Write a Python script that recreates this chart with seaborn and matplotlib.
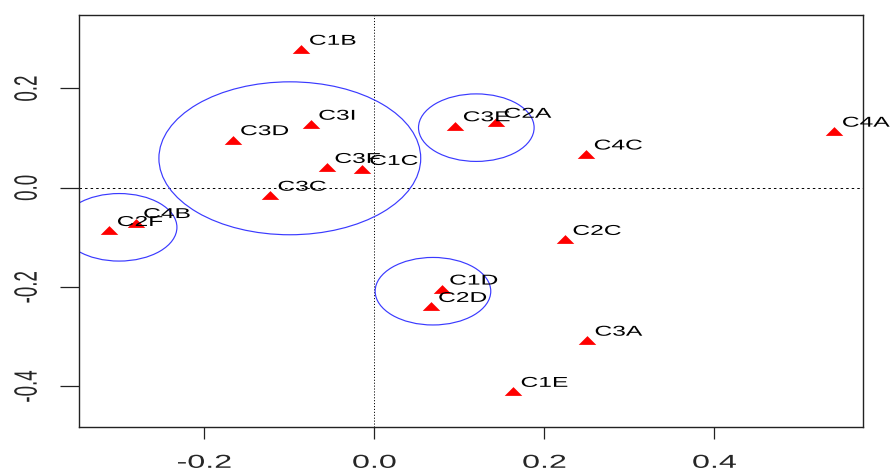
import numpy as np
import matplotlib
matplotlib.use("Agg")
import matplotlib.pyplot as plt
import seaborn as sns
from matplotlib.patches import Ellipse
from matplotlib.path import Path
from matplotlib.patheffects import AbstractPathEffect
from matplotlib.transforms import Affine2D

# ---- data -------------------------------------------------------------
labels = ["C1B", "C3D", "C3I", "C3F", "C1C", "C3C", "C2F", "C4B", "C3E",
          "C2A", "C4C", "C4A", "C2C", "C1D", "C2D", "C3A", "C1E"]
dim1 = [-0.086, -0.167, -0.075, -0.056, -0.015, -0.123, -0.312, -0.281, 0.095,
        0.143, 0.249, 0.541, 0.224, 0.079, 0.066, 0.250, 0.163]
dim2 = [0.279, 0.097, 0.128, 0.041, 0.037, -0.015, -0.086, -0.070, 0.125,
        0.132, 0.068, 0.114, -0.104, -0.204, -0.239, -0.307, -0.410]

# cluster circles: centre and radius (axis units)
circle_x = [-0.0996, -0.3004, 0.1198, 0.0688]
circle_y = [0.0594, -0.0796, 0.1211, -0.2083]
circle_r = [0.154, 0.068, 0.068, 0.068]

xticks = [-0.2, 0.0, 0.2, 0.4]
xtick_labels = ["-0.2", "0.0", "0.2", "0.4"]
yticks = [-0.4, -0.2, 0.0, 0.2]
ytick_labels = ["-0.4", "-0.2", "0.0", "0.2"]

xlim = (-0.3476, 0.5747)
ylim = (-0.4824, 0.348)


class HStretch(AbstractPathEffect):
    """Draw glyphs widened horizontally about a fraction of their extent."""

    def __init__(self, factor, anchor=0.5):
        super().__init__()
        self.factor = factor
        self.anchor = anchor

    def draw_path(self, renderer, gc, tpath, affine, rgbFace=None):
        ext = tpath.get_extents(affine)
        x0 = ext.x0 + self.anchor * ext.width
        widen = Affine2D().translate(-x0, 0).scale(self.factor, 1).translate(x0, 0)
        renderer.draw_path(gc, tpath, affine + widen, rgbFace)


STRETCH = 1.72
DPI = 100

sns.set_theme(style="white")
plt.rcParams["font.family"] = ["Liberation Sans", "DejaVu Sans"]
plt.rcParams["axes.unicode_minus"] = False
plt.rcParams["lines.scale_dashes"] = False

fig = plt.figure(figsize=(8.93, 4.73), dpi=DPI)
ax = fig.add_axes([79 / 893, 1 - 427.3 / 473, (863 - 79) / 893, (427.3 - 15) / 473])
ax.set_xlim(*xlim)
ax.set_ylim(*ylim)

# reference lines through the origin
ax.axhline(0, color="black", lw=0.7, ls=(0, (1.8, 2.2)), zorder=1)
ax.axvline(0, color="black", lw=0.7, ls=(0, (0.8, 1.3)), zorder=1)

# cluster circles
for cx, cy, r in zip(circle_x, circle_y, circle_r):
    ax.add_patch(Ellipse((cx, cy), 2 * r, 2 * r, fill=False,
                         edgecolor="#3a3aff", lw=0.85, zorder=2))

# filled wide triangles
tri = Path([(-1.0, -0.5), (1.0, -0.5), (0.0, 0.5), (-1.0, -0.5)],
           [Path.MOVETO, Path.LINETO, Path.LINETO, Path.CLOSEPOLY])
sns.scatterplot(x=dim1, y=dim2, ax=ax, marker=tri, s=160, color="#ff0000",
                linewidth=0, legend=False, zorder=3)

# point labels, up and to the right of each triangle
px2pt = 72 / DPI
for lab, x, y in zip(labels, dim1, dim2):
    t = ax.annotate(lab, (x, y), xytext=(8 * px2pt, 4.5 * px2pt),
                    textcoords="offset points", ha="left", va="baseline",
                    fontsize=10.3, color="black", zorder=4)
    t.set_path_effects([HStretch(STRETCH, anchor=0.0)])

# axes frame and ticks
for side in ax.spines.values():
    side.set_color("#222222")
    side.set_linewidth(1.0)
ax.set_xticks(xticks)
ax.set_xticklabels(xtick_labels)
ax.set_yticks(yticks)
ax.set_yticklabels(ytick_labels, rotation=90, va="center")
ax.tick_params(axis="x", direction="out", length=12 * px2pt, width=0.9,
               color="#222222", pad=15.5 * px2pt, labelsize=13.5, bottom=True)
ax.tick_params(axis="y", direction="out", length=19 * px2pt, width=0.9,
               color="#222222", pad=24 * px2pt, labelsize=13.5, left=True)
for lab in ax.get_xticklabels() + ax.get_yticklabels():
    lab.set_path_effects([HStretch(STRETCH, anchor=0.5)])
ax.grid(False)

fig.savefig("out.png", dpi=DPI, facecolor="white")
